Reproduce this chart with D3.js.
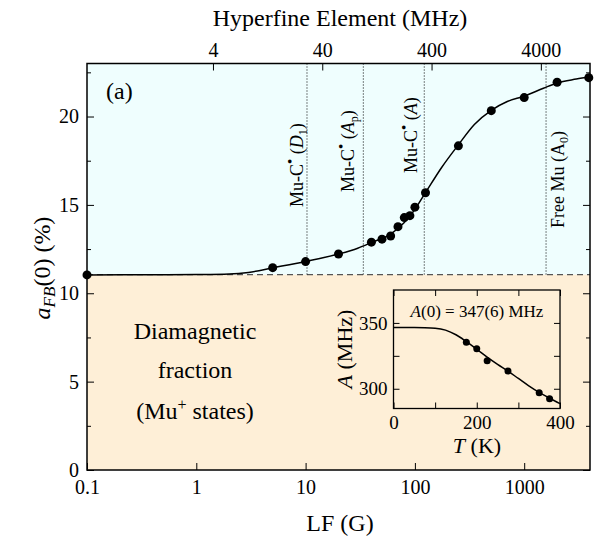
<!DOCTYPE html>
<html>
<head>
<meta charset="utf-8">
<title>LF decoupling of the diamagnetic fraction</title>
<script src="https://d3js.org/d3.v7.min.js"></script>
<style>
    body { margin: 0; background: #fff; }
    svg, svg text { font-family: "Liberation Serif", "Times New Roman", "DejaVu Serif", serif !important; fill: #000; }
    .axis path.domain { display: none; }
    .axis line { stroke: #000; stroke-width: 1; }
</style>
</head>
<body>
<svg id="chart" width="603" height="541" font-family="Liberation Serif, Times New Roman, serif"></svg>
<script>
    // measured asymmetry vs longitudinal field
    var fieldG = [0.1, 5, 10, 20, 40, 50, 60, 70, 80, 90, 100, 125, 250, 500, 1000, 2000, 3900];
    var asym   = [11.04, 11.45, 11.79, 12.22, 12.89, 13.06, 13.24, 13.77, 14.28, 14.39, 14.87, 15.69, 18.34, 20.33, 21.07, 21.94, 22.2];

    // fitted curve
    var fitG = [0.1, 0.5, 1, 2, 3, 5, 10, 20, 30, 40, 60, 80, 100, 125, 175, 250, 350, 500, 700, 1000, 1500, 2000, 3000, 4000];
    var fitA = [11.04, 11.05, 11.06, 11.09, 11.18, 11.44, 11.8, 12.22, 12.55, 12.87, 13.35, 14.0, 14.75, 15.69, 17.1, 18.4, 19.55, 20.35, 20.85, 21.15, 21.6, 21.9, 22.12, 22.25];

    var diamagLevel = 11.05;

    // hyperfine markers (MHz)
    var markerMHz = [29, 95, 343, 4463];
    var gaussPerMHz = 0.3551;

    var bottomTicks = [0.1, 1, 10, 100, 1000];
    var topTicksMHz = [4, 40, 400, 4000];
    var leftMajor = [0, 5, 10, 15, 20];
    var leftMinor = [2.5, 7.5, 12.5, 17.5, 22.5];

    // inset: hyperfine constant vs temperature
    var insetT = [175, 200, 225, 275, 350, 375];
    var insetA = [335.4, 330.3, 321.2, 313.4, 297, 292.4];
    var insetFitT = [0, 50, 75, 100, 125, 150, 175, 200, 225, 250, 275, 300, 325, 350, 375, 400];
    var insetFitA = [346.5, 346.5, 346.4, 346, 344.5, 341, 335.8, 330, 324, 318.5, 313.4, 307.8, 302.2, 297.2, 292.8, 288.7];
    var insetXTicks = [0, 100, 200, 300, 400];
    var insetYTicks = [300, 325, 350];

    var FONT = '"Liberation Serif", "Times New Roman", serif';
    var svg = d3.select('#chart');

    var x = d3.scaleLog().domain([0.1, 4000]).range([87, 590]);
    var y = d3.scaleLinear().domain([0, 23]).range([470, 63.5]);
    var xMHz = d3.scaleLog().domain([0.1 / gaussPerMHz, 4000 / gaussPerMHz]).range([87, 590]);

    var x0 = 87, x1 = 590, yTop = 63.5, yBot = 470;

    // background bands
    svg.append('rect').attr('x', x0).attr('y', yTop)
        .attr('width', x1 - x0).attr('height', y(diamagLevel) - yTop)
        .attr('fill', '#effefe');
    svg.append('rect').attr('x', x0).attr('y', y(diamagLevel))
        .attr('width', x1 - x0).attr('height', yBot - y(diamagLevel))
        .attr('fill', '#feefd7');

    // dashed diamagnetic level
    svg.append('line').attr('x1', x0).attr('x2', x1)
        .attr('y1', y(diamagLevel)).attr('y2', y(diamagLevel))
        .attr('stroke', '#555').attr('stroke-width', 1.2).attr('stroke-dasharray', '6,4');

    // dotted hyperfine markers
    svg.selectAll('.marker').data(markerMHz).enter().append('line')
        .attr('class', 'marker')
        .attr('x1', function(d) { return x(d * gaussPerMHz); })
        .attr('x2', function(d) { return x(d * gaussPerMHz); })
        .attr('y1', yTop).attr('y2', y(diamagLevel))
        .attr('stroke', '#000').attr('stroke-width', 1).attr('stroke-dasharray', '1,2');

    // marker labels (rotated)
    function vlabel(xp, yp, build) {
        var t = svg.append('text')
            .attr('transform', 'translate(' + xp + ',' + yp + ') rotate(-90)')
            .attr('font-size', 18);
        build(t);
    }
    function radical(t) {
        t.append('tspan').text('Mu-C');
        t.append('tspan').attr('dy', -8).attr('font-size', 15).text('\u2022');
        t.append('tspan').attr('dy', 8).text(' (');
    }
    vlabel(303, 207, function(t) {
        radical(t);
        t.append('tspan').attr('font-style', 'italic').text('D');
        t.append('tspan').attr('dy', 4).attr('font-size', 12).text('1');
        t.append('tspan').attr('dy', -4).text(')');
    });
    vlabel(354, 192, function(t) {
        radical(t);
        t.append('tspan').attr('font-style', 'italic').text('A');
        t.append('tspan').attr('dy', 4).attr('font-size', 12).text('p');
        t.append('tspan').attr('dy', -4).text(')');
    });
    vlabel(417, 173, function(t) {
        radical(t);
        t.append('tspan').attr('font-style', 'italic').text('A');
        t.append('tspan').text(')');
    });
    vlabel(564, 228, function(t) {
        t.append('tspan').text('Free Mu (A');
        t.append('tspan').attr('dy', 4).attr('font-size', 12).text('0');
        t.append('tspan').attr('dy', -4).text(')');
    });

    // fit curve
    var line = d3.line()
        .x(function(d, i) { return x(fitG[i]); })
        .y(function(d) { return y(d); })
        .curve(d3.curveMonotoneX);
    svg.append('path').datum(fitA).attr('d', line)
        .attr('fill', 'none').attr('stroke', '#000').attr('stroke-width', 1.5);

    // data points
    svg.selectAll('.pt').data(asym).enter().append('circle')
        .attr('class', 'pt')
        .attr('cx', function(d, i) { return x(fieldG[i]); })
        .attr('cy', function(d) { return y(d); })
        .attr('r', 4.5).attr('fill', '#000');

    // axes
    svg.append('g').attr('class', 'axis').attr('transform', 'translate(0,' + yBot + ')')
        .call(d3.axisBottom(x).tickValues(bottomTicks).tickSize(-7).tickPadding(10)
            .tickFormat(function(d) { return String(d); }))
        .selectAll('text').attr('font-size', 20);
    svg.append('g').attr('class', 'axis').attr('transform', 'translate(0,' + yTop + ')')
        .call(d3.axisTop(xMHz).tickValues(topTicksMHz).tickSize(-7).tickPadding(7)
            .tickFormat(function(d) { return String(d); }))
        .selectAll('text').attr('font-size', 20);
    svg.append('g').attr('class', 'axis').attr('transform', 'translate(' + x0 + ',0)')
        .call(d3.axisLeft(y).tickValues(leftMajor).tickSize(-7).tickPadding(8).tickFormat(d3.format('d')))
        .selectAll('text').attr('font-size', 20);
    svg.append('g').attr('class', 'axis').attr('transform', 'translate(' + x0 + ',0)')
        .call(d3.axisLeft(y).tickValues(leftMinor).tickSize(-4).tickFormat(''));
    svg.append('g').attr('class', 'axis').attr('transform', 'translate(' + x1 + ',0)')
        .call(d3.axisRight(y).tickValues(leftMajor).tickSize(-7).tickFormat(''));
    svg.append('g').attr('class', 'axis').attr('transform', 'translate(' + x1 + ',0)')
        .call(d3.axisRight(y).tickValues(leftMinor).tickSize(-4).tickFormat(''));

    // frame
    svg.append('rect').attr('x', x0).attr('y', yTop)
        .attr('width', x1 - x0).attr('height', yBot - yTop)
        .attr('fill', 'none').attr('stroke', '#000').attr('stroke-width', 1.5);

    // titles
    svg.append('text').attr('x', 340).attr('y', 26).attr('text-anchor', 'middle')
        .attr('font-size', 24).text('Hyperfine Element (MHz)');
    svg.append('text').attr('x', 340).attr('y', 531).attr('text-anchor', 'middle')
        .attr('font-size', 24).text('LF (G)');
    var yt = svg.append('text').attr('transform', 'translate(50,268) rotate(-90)')
        .attr('text-anchor', 'middle').attr('font-size', 24);
    yt.append('tspan').attr('font-style', 'italic').text('a');
    yt.append('tspan').attr('font-style', 'italic').attr('dy', 5).attr('font-size', 17).text('FB');
    yt.append('tspan').attr('dy', -5).text('(0) (%)');

    svg.append('text').attr('x', 106).attr('y', 99).attr('font-size', 24).text('(a)');

    var diag = svg.append('text').attr('text-anchor', 'middle').attr('font-size', 24);
    diag.append('tspan').attr('x', 195).attr('y', 339).text('Diamagnetic');
    diag.append('tspan').attr('x', 195).attr('y', 378).text('fraction');
    var mu = svg.append('text').attr('x', 195).attr('y', 419).attr('text-anchor', 'middle').attr('font-size', 24);
    mu.append('tspan').text('(Mu');
    mu.append('tspan').attr('dy', -9).attr('font-size', 16).text('+');
    mu.append('tspan').attr('dy', 9).text(' states)');

    // inset
    var xi = d3.scaleLinear().domain([0, 400]).range([393.5, 560]);
    var yi = d3.scaleLinear().domain([285, 375]).range([408.5, 290]);
    var inset = svg.append('g');

    inset.append('rect').attr('x', 393.5).attr('y', 290).attr('width', 560 - 393.5).attr('height', 408.5 - 290)
        .attr('fill', '#feefd7');

    inset.append('g').attr('class', 'axis').attr('transform', 'translate(0,408.5)')
        .call(d3.axisBottom(xi).tickValues(insetXTicks).tickSize(-6).tickPadding(7)
            .tickFormat(function(d) { return d % 200 === 0 ? String(d) : ''; }))
        .selectAll('text').attr('font-size', 19);
    inset.append('g').attr('class', 'axis').attr('transform', 'translate(0,290)')
        .call(d3.axisTop(xi).tickValues(insetXTicks).tickSize(-6).tickFormat(''));
    inset.append('g').attr('class', 'axis').attr('transform', 'translate(393.5,0)')
        .call(d3.axisLeft(yi).tickValues(insetYTicks).tickSize(-6).tickPadding(6)
            .tickFormat(function(d) { return d % 50 === 0 ? String(d) : ''; }))
        .selectAll('text').attr('font-size', 19);
    inset.append('g').attr('class', 'axis').attr('transform', 'translate(560,0)')
        .call(d3.axisRight(yi).tickValues(insetYTicks).tickSize(-6).tickFormat(''));

    var iline = d3.line()
        .x(function(d, i) { return xi(insetFitT[i]); })
        .y(function(d) { return yi(d); })
        .curve(d3.curveMonotoneX);
    inset.append('path').datum(insetFitA).attr('d', iline)
        .attr('fill', 'none').attr('stroke', '#000').attr('stroke-width', 1.5);

    inset.selectAll('.ipt').data(insetA).enter().append('circle')
        .attr('class', 'ipt')
        .attr('cx', function(d, i) { return xi(insetT[i]); })
        .attr('cy', function(d) { return yi(d); })
        .attr('r', 3.5).attr('fill', '#000');

    inset.append('rect').attr('x', 393.5).attr('y', 290).attr('width', 560 - 393.5).attr('height', 408.5 - 290)
        .attr('fill', 'none').attr('stroke', '#000').attr('stroke-width', 1.3);

    var ann = inset.append('text').attr('x', 477).attr('y', 317).attr('text-anchor', 'middle').attr('font-size', 17);
    ann.append('tspan').attr('font-style', 'italic').text('A');
    ann.append('tspan').text('(0) = 347(6) MHz');

    var ixt = inset.append('text').attr('x', 477).attr('y', 453).attr('text-anchor', 'middle').attr('font-size', 22);
    ixt.append('tspan').attr('font-style', 'italic').text('T');
    ixt.append('tspan').text(' (K)');

    var iyt = inset.append('text').attr('transform', 'translate(352,349) rotate(-90)')
        .attr('text-anchor', 'middle').attr('font-size', 22);
    iyt.append('tspan').attr('font-style', 'italic').text('A');
    iyt.append('tspan').text(' (MHz)');

    // force the serif face on every text node (axis groups set their own family)
    svg.selectAll('g.axis').attr('font-family', FONT);
    svg.selectAll('text').attr('font-family', FONT);
</script>
</body>
</html>
